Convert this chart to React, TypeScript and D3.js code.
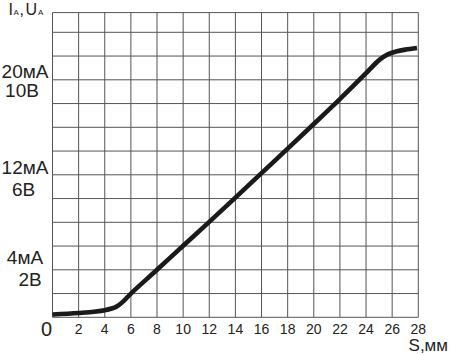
import React from "react";
import * as d3 from "d3";

const sValues = [0, 2, 4, 4.9, 5.4, 6, 8, 10, 12, 14, 16, 18, 20, 22, 23, 24, 25, 25.7, 26.3, 27, 27.9];
const uValues = [0.12, 0.18, 0.3, 0.45, 0.66, 1.0, 2.0, 3.01, 4.02, 5.04, 6.07, 7.1, 8.14, 9.19, 9.73, 10.28, 10.83, 11.08, 11.19, 11.27, 11.34];

const xTicks = [2, 4, 6, 8, 10, 12, 14, 16, 18, 20, 22, 24, 26, 28];
const xGrid = [0, 2, 4, 6, 8, 10, 12, 14, 16, 18, 20, 22, 24, 26, 28];
const yGrid = [0, 1, 2, 3, 4, 5, 6, 7, 8, 9, 10, 11, 12];
const yTopValue = 12.83;

const yLabelAt = [2, 6, 10];
const yLabelCurrent = ["4мА", "12мА", "20мА"];
const yLabelVoltage = ["2В", "6В", "10В"];
// layout offsets (style only)
const yLabelDy1 = [-6, -1, -1.7];
const yLabelDy2 = [16, 20.7, 17.3];
const yLabelX2 = [30, 23.5, 22];

const W = 450;
const H = 355;
const FONT = "'Liberation Sans', Arial, sans-serif";

export default function App() {
  const x = d3.scaleLinear().domain([0, 28]).range([52.5, 418.3]);
  const y = d3.scaleLinear().domain([0, 12]).range([317.3, 32.3]);
  const data = sValues.map((s, i) => [s, uValues[i]] as [number, number]);
  const line = d3
    .line<[number, number]>()
    .x((d) => x(d[0]))
    .y((d) => y(d[1]))
    .curve(d3.curveCatmullRom.alpha(0.5));

  const yTop = y(yTopValue);
  const yBot = y(0);

  return (
    <svg
      width={W}
      height={H}
      style={{ position: "absolute", left: 0, top: 0, background: "#fff" }}
      fontFamily={FONT}
    >
      <rect x={0} y={0} width={W} height={H} fill="#fff" />
      {xGrid.map((v) => (
        <line key={"vx" + v} x1={x(v)} x2={x(v)} y1={yTop} y2={yBot} stroke="#555" strokeWidth={1} />
      ))}
      {yGrid.map((v) => (
        <line key={"hy" + v} x1={x(0)} x2={x(28)} y1={y(v)} y2={y(v)} stroke="#555" strokeWidth={1} />
      ))}
      <line x1={x(0)} x2={x(28)} y1={yTop} y2={yTop} stroke="#555" strokeWidth={1} />

      <path d={line(data) || ""} fill="none" stroke="#1a1a1a" strokeWidth={4.6} strokeLinejoin="round" />

      {xTicks.map((v) => (
        <text key={"xt" + v} x={x(v)} y={333.5} fontSize={14} textAnchor="middle" fill="#222">
          {v}
        </text>
      ))}
      <text x={46.5} y={335.5} fontSize={20} textAnchor="middle" fill="#222">0</text>
      <text x={448} y={351} fontSize={17} textAnchor="end" fill="#222">S,мм</text>

      {yLabelAt.map((v, i) => (
        <g key={"yl" + v}>
          <text x={25} y={y(v) + yLabelDy1[i]} fontSize={19} textAnchor="middle" fill="#222">
            {yLabelCurrent[i]}
          </text>
          <text x={yLabelX2[i]} y={y(v) + yLabelDy2[i]} fontSize={19} textAnchor="middle" fill="#222">
            {yLabelVoltage[i]}
          </text>
        </g>
      ))}

      <g fill="#222">
        <text x={8.5} y={15} fontSize={16}>I</text>
        <text x={13.5} y={15} fontSize={8}>A</text>
        <text x={19.5} y={15} fontSize={16}>,</text>
        <text x={25.5} y={15} fontSize={16}>U</text>
        <text x={38} y={15} fontSize={8}>A</text>
      </g>
    </svg>
  );
}
